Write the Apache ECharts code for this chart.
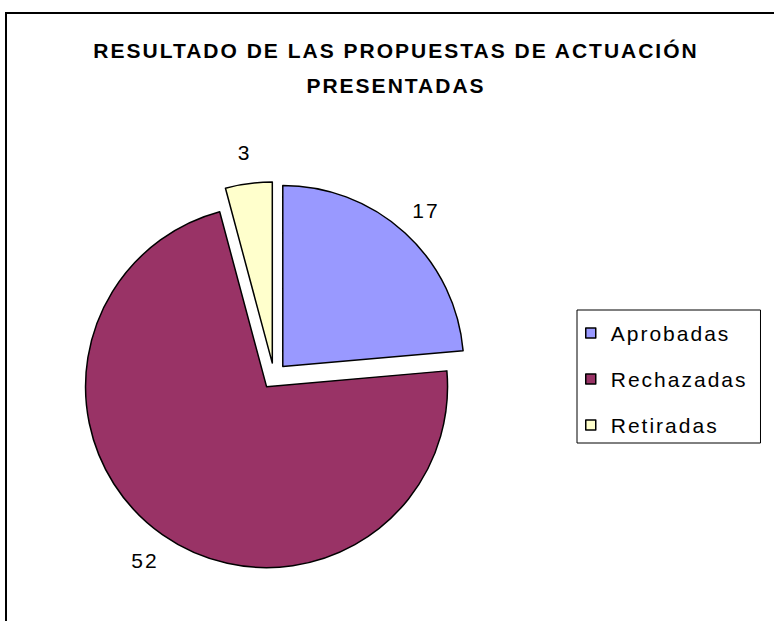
<!DOCTYPE html>
<html>
<head>
<meta charset="utf-8">
<script src="https://cdn.jsdelivr.net/npm/echarts@6/dist/echarts.min.js"></script>
<style>
  html, body { margin: 0; padding: 0; background: #fff; overflow: hidden; }
  #chart { width: 792px; height: 621px; }
  /* texto espaciado como en el original */
  #chart text { letter-spacing: 2px; }
</style>
</head>
<body>
<div id="chart"></div>
<script>
// datos del gráfico
const categories = ['Aprobadas', 'Rechazadas', 'Retiradas'];
const values = [17, 52, 3];
const colors = ['#9999FF', '#993366', '#FFFFCC'];
const titleLines = ['RESULTADO DE LAS PROPUESTAS DE ACTUACIÓN', 'PRESENTADAS'];

const font = "'Liberation Sans', Arial, sans-serif";

const myChart = echarts.init(document.getElementById('chart'), null, { renderer: 'svg' });

myChart.setOption({
  backgroundColor: '#fff',
  animation: false,
  // marco del gráfico
  graphic: [{
    type: 'rect',
    shape: { x: 6, y: 13, width: 900, height: 900 },
    style: { fill: 'none', stroke: '#000', lineWidth: 2 },
    silent: true,
    z: -1
  }],
  title: {
    text: titleLines.join('\n'),
    left: 'center',
    top: 33,
    padding: 0,
    textStyle: {
      fontFamily: font,
      fontSize: 21,
      fontWeight: 'bold',
      lineHeight: 35,
      color: '#000'
    }
  },
  legend: {
    orient: 'vertical',
    left: 577,
    top: 310,
    padding: [11, 33, 6, 8],
    borderColor: '#000',
    borderWidth: 1,
    itemWidth: 10,
    itemHeight: 10,
    itemGap: 22,
    icon: 'rect',
    itemStyle: { borderColor: '#000', borderWidth: 1.5 },
    selectedMode: false,
    textStyle: {
      fontFamily: font,
      fontSize: 21,
      lineHeight: 24,
      color: '#000',
      padding: [0, 0, 0, 10]
    },
    data: categories
  },
  series: [{
    type: 'pie',
    center: [274, 376],
    radius: 181,
    startAngle: 90,
    clockwise: true,
    avoidLabelOverlap: false,
    selectedMode: 'multiple',
    selectedOffset: 13,
    emphasis: { disabled: true },
    itemStyle: { borderColor: '#000', borderWidth: 1.5 },
    select: { itemStyle: { borderColor: '#000', borderWidth: 1.5 } },
    label: {
      show: true,
      position: 'outside',
      formatter: '{c}',
      fontFamily: font,
      fontSize: 21,
      color: '#000',
      distanceToLabelLine: 0
    },
    labelLine: { show: false, length: 31, length2: 0 },
    labelLayout: { align: 'center' },
    data: categories.map(function (name, i) {
      return {
        name: name,
        value: values[i],
        selected: true,
        itemStyle: { color: colors[i] }
      };
    })
  }]
});
</script>
</body>
</html>
